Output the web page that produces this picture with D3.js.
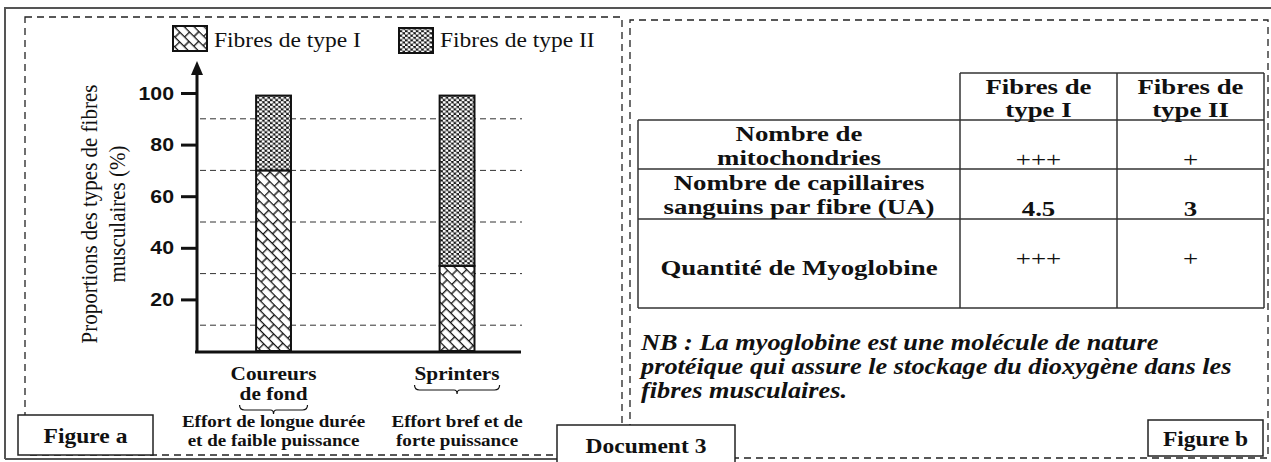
<!DOCTYPE html>
<html>
<head>
<meta charset="utf-8">
<script src="https://cdn.jsdelivr.net/npm/d3@7"></script>
<style>
  body { margin: 0; background: #fff; }
  svg { display: block; }
  .serif { font-family: "Liberation Serif", "Times New Roman", serif; fill: #111; }
  .b { font-weight: bold; }
</style>
</head>
<body>
<svg id="drawing_region"></svg>
<script>
// ---- data ----
const categories = ['Coureurs de fond', 'Sprinters'];
const categoryLines = [['Coureurs', 'de fond'], ['Sprinters']];
const effortLines = [['Effort de longue durée', 'et de faible puissance'], ['Effort bref et de', 'forte puissance']];
const typeI = [70, 33];
const typeII = [29, 66];
const yTicks = [20, 40, 60, 80, 100];
const gridValues = [10, 30, 50, 70, 90];
const seriesNames = ['Fibres de type I', 'Fibres de type II'];

const tableHeaders = [['Fibres de', 'type I'], ['Fibres de', 'type II']];
const rowLabels = [['Nombre de', 'mitochondries'], ['Nombre de capillaires', 'sanguins par fibre (UA)'], ['Quantité de Myoglobine']];
const typeIValues = ['+++', '4.5', '+++'];
const typeIIValues = ['+', '3', '+'];
const noteLines = ['NB : La myoglobine est une molécule de nature',
                   'protéique qui assure le stockage du dioxygène dans les',
                   'fibres musculaires.'];

// the scan is a bit stretched sideways, so texts get a horizontal stretch
const SX = 1.12;

const svg = d3.select('#drawing_region').attr('width', 1271).attr('height', 462);

function stext(g, x, y, str, size, opts) {
    opts = opts || {};
    const sx = opts.sx || SX;
    return g.append('text')
        .attr('class', 'serif' + (opts.bold ? ' b' : ''))
        .attr('transform', `translate(${x},${y}) scale(${sx},1)` + (opts.rotate ? ` rotate(${opts.rotate})` : ''))
        .attr('text-anchor', opts.anchor || 'middle')
        .attr('dy', '0.33em')
        .style('font-size', size + 'px')
        .style('font-style', opts.italic ? 'italic' : null)
        .text(str);
}

// ---- patterns ----
const defs = svg.append('defs');
const p1 = defs.append('pattern').attr('id', 'typeI')
    .attr('patternUnits', 'userSpaceOnUse').attr('width', 13).attr('height', 14)
    .attr('patternTransform', 'rotate(45)');
p1.append('rect').attr('width', 13).attr('height', 14).attr('fill', '#fff');
p1.append('path').attr('d', 'M0,0.6H13 M0,7.6H13 M0.6,0V7.6 M7,7.6V14')
    .attr('stroke', '#111').attr('stroke-width', 1.4).attr('fill', 'none');

const p2 = defs.append('pattern').attr('id', 'typeII')
    .attr('patternUnits', 'userSpaceOnUse').attr('width', 5.4).attr('height', 4.6);
p2.append('rect').attr('width', 5.4).attr('height', 4.6).attr('fill', '#161616');
p2.append('ellipse').attr('cx', 1.35).attr('cy', 1.15).attr('rx', 1.7).attr('ry', 1.3).attr('fill', '#fff');
p2.append('ellipse').attr('cx', 4.05).attr('cy', 3.45).attr('rx', 1.7).attr('ry', 1.3).attr('fill', '#fff');

// ---- frames ----
const frame = svg.append('g').attr('fill', 'none');
frame.append('path').attr('d', 'M5,459 V8 H1271').attr('stroke', '#555').attr('stroke-width', 2);
frame.append('path').attr('d', 'M5,459 H557').attr('stroke', '#555').attr('stroke-width', 2);
frame.append('rect').attr('x', 25).attr('y', 17).attr('width', 597).attr('height', 438)
    .attr('stroke', '#222').attr('stroke-width', 1.3).attr('stroke-dasharray', '7,5');
frame.append('path').attr('d', 'M630,455 V20 H1268 V458 H735')
    .attr('stroke', '#222').attr('stroke-width', 1.3).attr('stroke-dasharray', '7,5');

// ---- figure a ----
const y = d3.scaleLinear().domain([0, 100]).range([351, 93]);
const x = d3.scaleBand().domain(categories).range([197, 520])
    .paddingInner(0.81).paddingOuter(0.285).align(0.565);

const chart = svg.append('g');

chart.selectAll('.grid').data(gridValues).enter().append('line')
    .attr('x1', 200).attr('x2', 522)
    .attr('y1', d => y(d)).attr('y2', d => y(d))
    .attr('stroke', '#333').attr('stroke-width', 1).attr('stroke-dasharray', '6,4');

const yAxis = chart.append('g').attr('transform', 'translate(197,0)')
    .call(d3.axisLeft(y).tickValues(yTicks).tickSize(16).tickPadding(6));
yAxis.select('.domain').remove();
yAxis.selectAll('line').attr('stroke', '#111').attr('stroke-width', 3);
yAxis.selectAll('text')
    .attr('x', -23 / SX).attr('transform', `scale(${SX},1)`)
    .style('font-family', '"Liberation Sans", Arial, sans-serif')
    .style('font-weight', 'bold').style('font-size', '19px').attr('fill', '#111');

chart.append('line').attr('x1', 197).attr('x2', 197).attr('y1', y(0) + 2).attr('y2', 72)
    .attr('stroke', '#111').attr('stroke-width', 3);
chart.append('path').attr('d', 'M197,61 L191,75 L203,75 Z').attr('fill', '#111');
chart.append('line').attr('x1', 195).attr('x2', 521).attr('y1', y(0) + 1).attr('y2', y(0) + 1)
    .attr('stroke', '#111').attr('stroke-width', 3);

const bars = chart.selectAll('.bar').data(categories).enter().append('g');
bars.append('rect')
    .attr('x', d => x(d)).attr('width', x.bandwidth())
    .attr('y', (d, i) => y(typeI[i])).attr('height', (d, i) => y(0) - y(typeI[i]))
    .attr('fill', 'url(#typeI)').attr('stroke', '#111').attr('stroke-width', 2);
bars.append('rect')
    .attr('x', d => x(d)).attr('width', x.bandwidth())
    .attr('y', (d, i) => y(typeI[i] + typeII[i])).attr('height', (d, i) => y(typeI[i]) - y(typeI[i] + typeII[i]))
    .attr('fill', 'url(#typeII)').attr('stroke', '#111').attr('stroke-width', 2);

// y label
stext(chart, 89, 214, 'Proportions des types de fibres', 21, { rotate: -90 });
stext(chart, 117, 214, 'musculaires (%)', 21, { rotate: -90 });

// category labels, braces and effort text
categories.forEach((c, i) => {
    const cx = x(c) + x.bandwidth() / 2;
    let w = 0;
    let last = 0;
    categoryLines[i].forEach((t, k) => {
        last = 374 + k * 20;
        const el = stext(chart, cx, last, t, 19, { bold: true });
        w = el.node().getComputedTextLength() * SX;
    });
    const top = last + 11, l = cx - w / 2, r = cx + w / 2;
    chart.append('path')
        .attr('d', `M${l},${top} Q${l},${top + 5} ${l + 5},${top + 5} L${cx - 3},${top + 5} Q${cx},${top + 5} ${cx},${top + 9}`
            + ` Q${cx},${top + 5} ${cx + 3},${top + 5} L${r - 5},${top + 5} Q${r},${top + 5} ${r},${top}`)
        .attr('fill', 'none').attr('stroke', '#111').attr('stroke-width', 1.2);
    effortLines[i].forEach((t, k) => stext(chart, cx, 421 + k * 19, t, 17, { bold: true }));
});

// legend
const legend = svg.append('g');
const legendX = [173, 399];
const legendY = [26, 28];
seriesNames.forEach((s, i) => {
    legend.append('rect').attr('x', legendX[i]).attr('y', legendY[i]).attr('width', 34).attr('height', 25)
        .attr('fill', i === 0 ? 'url(#typeI)' : 'url(#typeII)').attr('stroke', '#111').attr('stroke-width', 2);
    stext(legend, legendX[i] + 41, 40, s, 21, { anchor: 'start' });
});

// caption boxes
function caption(x0, y0, w, h, str) {
    svg.append('rect').attr('x', x0).attr('y', y0).attr('width', w).attr('height', h)
        .attr('fill', '#fff').attr('stroke', '#222').attr('stroke-width', 1.5);
    stext(svg, x0 + w / 2, y0 + h / 2 + 1, str, 21, { bold: true });
}
caption(18, 415, 135, 40, 'Figure a');
caption(557, 425, 178, 40, 'Document 3');
caption(1148, 420, 115, 36, 'Figure b');

// ---- figure b : table ----
const table = svg.append('g');
const colEdges = [638, 960, 1117, 1264];
const rowEdges = [120, 169, 219, 308];
const headerTop = 73;
const TSX = 1.22;
const line = (x1, y1, x2, y2) => table.append('line').attr('x1', x1).attr('y1', y1).attr('x2', x2).attr('y2', y2)
    .attr('stroke', '#333').attr('stroke-width', 1.5);

line(colEdges[1], headerTop, colEdges[3], headerTop);
rowEdges.forEach(r => line(colEdges[0], r, colEdges[3], r));
line(colEdges[0], rowEdges[0], colEdges[0], rowEdges[3]);
colEdges.slice(1).forEach(c => line(c, headerTop, c, rowEdges[3]));

tableHeaders.forEach((h, j) => {
    const cx = (colEdges[j + 1] + colEdges[j + 2]) / 2;
    h.forEach((t, k) => stext(table, cx, 87 + k * 23, t, 22, { bold: true, sx: TSX }));
});

const labelX = (colEdges[0] + colEdges[1]) / 2;
rowLabels.forEach((lines, i) => {
    const top = rowEdges[i];
    if (lines.length === 2) {
        lines.forEach((t, k) => stext(table, labelX, top + 14 + k * 24, t, 22, { bold: true, sx: TSX }));
    } else {
        stext(table, labelX, top + 49, lines[0], 22, { bold: true, sx: TSX });
    }
    [typeIValues, typeIIValues].forEach((vals, j) => {
        const cx = (colEdges[j + 1] + colEdges[j + 2]) / 2;
        const v = vals[i];
        stext(table, cx, top + 40, v, 22, { bold: !v.startsWith('+'), sx: TSX });
    });
});

noteLines.forEach((t, k) => stext(svg, 641, 342 + k * 24, t, 23.5, { bold: true, italic: true, anchor: 'start' }));
</script>
</body>
</html>
